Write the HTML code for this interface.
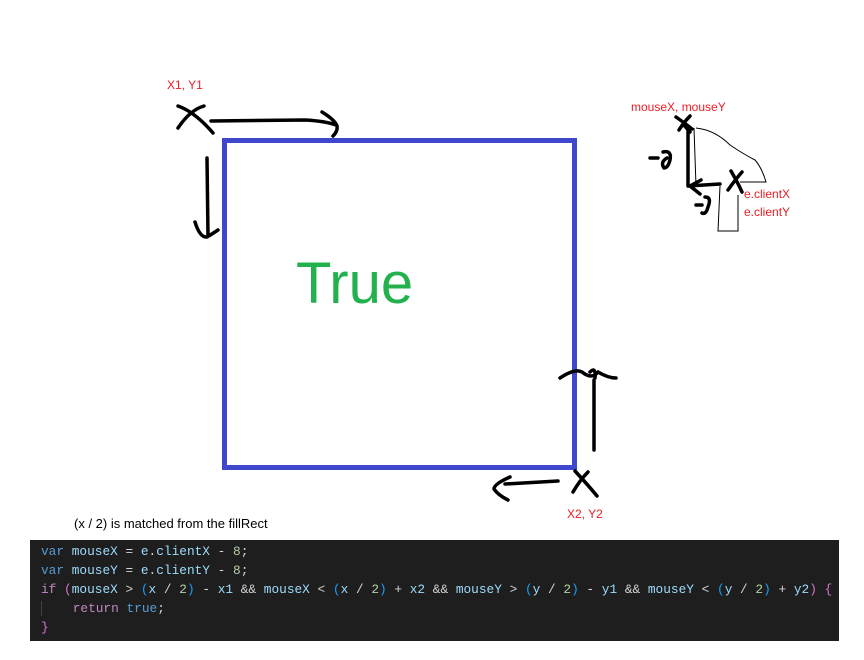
<!DOCTYPE html>
<html><head><meta charset="utf-8"><style>
html,body{margin:0;padding:0;background:#fff;width:864px;height:660px;overflow:hidden;position:relative;font-family:"Liberation Sans",sans-serif}
.code{position:absolute;left:30px;top:540px;width:809px;height:101px;background:#1e1e1e;font-family:"Liberation Mono",monospace;font-size:12.8px;line-height:19px;color:#d4d4d4;padding-top:2px;box-sizing:border-box}
.code div{padding-left:11px;white-space:pre}
.k{color:#569cd6}.v{color:#9cdcfe}.n{color:#b5cea8}.c{color:#c586c0}.p{color:#da70d6}.b{color:#179fff}
</style></head><body>
<svg width="864" height="540" style="position:absolute;left:0;top:0" font-family="Liberation Sans, sans-serif">
<rect x="224.5" y="140.5" width="350" height="327" fill="none" stroke="#3f48cc" stroke-width="5"/>
<text x="296" y="303" font-size="58" fill="#22b14c">True</text>
<text x="167" y="89" font-size="12" fill="#ed1c24">X1, Y1</text>
<text x="567" y="518" font-size="12" fill="#ed1c24">X2, Y2</text>
<text x="631" y="111" font-size="12" fill="#ed1c24">mouseX, mouseY</text>
<text x="744" y="198" font-size="12" fill="#ed1c24">e.clientX</text>
<text x="744" y="216" font-size="12" fill="#ed1c24">e.clientY</text>
<g stroke="#000" stroke-width="3.5" fill="none" stroke-linecap="round" stroke-linejoin="round">
<path d="M178 106 Q195 112 213 133 M178 128 Q190 110 204 106"/>
<path d="M211 121 L305 120 Q325 121 336 125 M322 112 Q335 120 337 126 Q338 131 333 136"/>
<path d="M207 158 L208 235 M195 222 Q200 238 207 237 Q212 234 218 230"/>
<path d="M594 450 L594 380 M560 378 Q575 368 582 372 Q592 380 598 372 Q608 378 616 378 M590 372 Q596 366 595 378"/>
<path d="M575 471 Q588 485 597 496 M573 492 Q580 480 588 472"/>
<path d="M558 481 L505 484 M510 477 Q494 484 494 489 Q498 495 508 500"/>
<path d="M688 128 L688 186 L720 184 M676 117 Q686 124 692 129 M679 130 Q684 122 690 116 M683 124 L690 132 M701 180 L690 186 L700 194"/>
<path d="M731 171 Q738 183 742 192 M728 190 Q735 180 742 172"/>
<path d="M650 158 L658 158 M663 152 Q672 150 670 160 Q668 168 664 168 Q660 162 667 158 M696 205 L702 205 M705 197 Q712 197 708 207 Q706 215 702 213"/>
</g>
<g stroke="#000" stroke-width="1" fill="none">
<path d="M694 128 L696 186 M696 128 Q715 130 730 145 Q745 155 755 160 Q762 168 766 182 L740 182"/>
<path d="M720 186 L718 231 L738 231 L738 195"/>
</g>
</svg>
<div style="position:absolute;left:74px;top:516px;font-size:13px;color:#000">(x / 2) is matched from the fillRect</div>
<div class="code">
<div><span class="k">var</span> <span class="v">mouseX</span> = <span class="v">e</span>.<span class="v">clientX</span> - <span class="n">8</span>;</div>
<div><span class="k">var</span> <span class="v">mouseY</span> = <span class="v">e</span>.<span class="v">clientY</span> - <span class="n">8</span>;</div>
<div><span class="c">if</span> <span class="p">(</span><span class="v">mouseX</span> &gt; <span class="b">(</span><span class="v">x</span> / <span class="n">2</span><span class="b">)</span> - <span class="v">x1</span> &amp;&amp; <span class="v">mouseX</span> &lt; <span class="b">(</span><span class="v">x</span> / <span class="n">2</span><span class="b">)</span> + <span class="v">x2</span> &amp;&amp; <span class="v">mouseY</span> &gt; <span class="b">(</span><span class="v">y</span> / <span class="n">2</span><span class="b">)</span> - <span class="v">y1</span> &amp;&amp; <span class="v">mouseY</span> &lt; <span class="b">(</span><span class="v">y</span> / <span class="n">2</span><span class="b">)</span> + <span class="v">y2</span><span class="p">)</span> <span class="p">{</span></div>
<div><span style="border-left:1px solid #404040">    </span><span class="c">return</span> <span class="k">true</span>;</div>
<div><span class="p">}</span></div>
</div>
</body></html>
